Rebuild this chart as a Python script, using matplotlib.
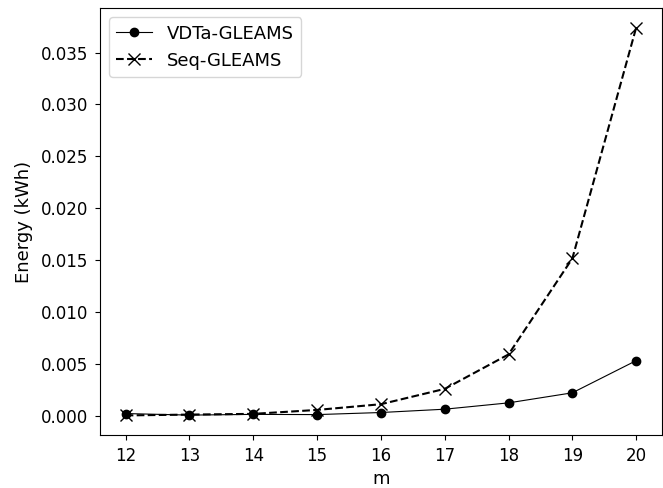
import matplotlib
matplotlib.use('Agg')
import matplotlib.pyplot as plt

m = [12, 13, 14, 15, 16, 17, 18, 19, 20]
vdta = [0.0002, 0.00005, 0.00012, 0.0001, 0.0003, 0.00062, 0.00123, 0.0022, 0.0053]
seq = [0.00002, 0.0001, 0.00017, 0.00055, 0.0011, 0.00258, 0.0059, 0.01515, 0.0374]

plt.rcParams['font.size'] = 12
fig = plt.figure(figsize=(6.63, 4.88), dpi=100)
ax = fig.add_axes([0.151, 0.109, 0.847, 0.874])

ax.plot(m, vdta, color='black', linestyle='-', linewidth=0.8, marker='o', markersize=6, label='VDTa-GLEAMS')
ax.plot(m, seq, color='black', linestyle='--', linewidth=1.5, marker='x', markersize=9, label='Seq-GLEAMS')

ax.set_xlabel('m', fontsize=13)
ax.set_ylabel('Energy (kWh)', fontsize=13, labelpad=6)
ax.set_xticks(m)
ax.tick_params(labelsize=12, pad=5)
ax.legend(loc='upper left', fontsize=13)

fig.savefig('out.png', dpi=100)
